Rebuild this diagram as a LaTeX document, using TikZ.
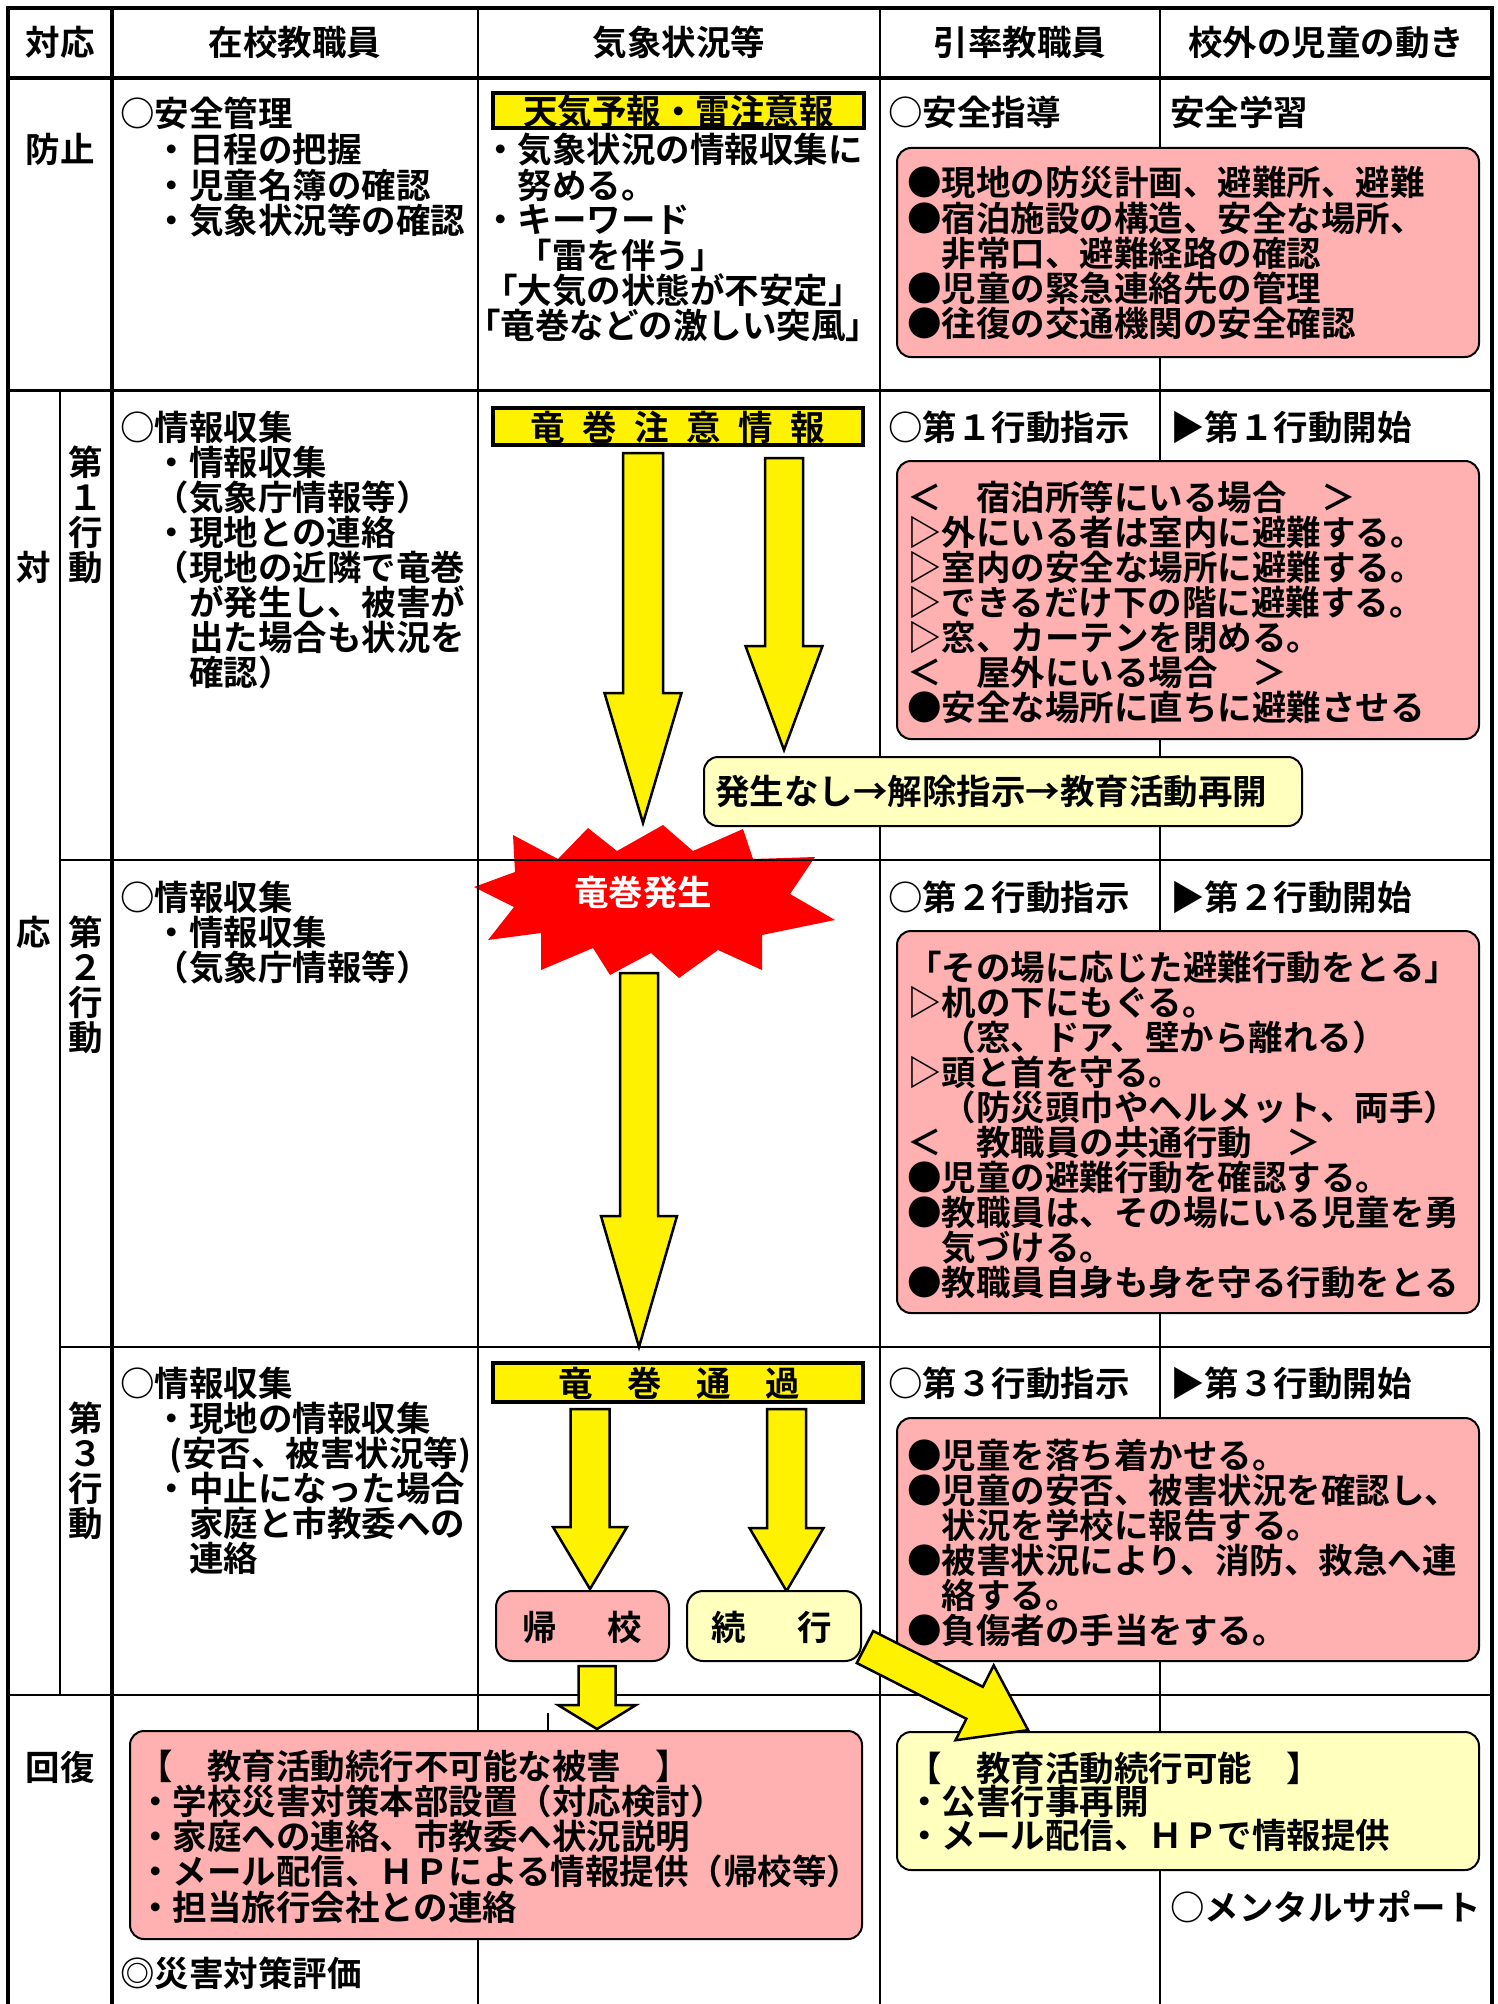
\documentclass[tikz,border=0pt]{standalone}
\usepackage{fontspec}
\setmainfont{Noto Sans CJK JP}[BoldFont={Noto Sans CJK JP Bold}]
\definecolor{pinkc}{RGB}{255,176,176}
\definecolor{lyel}{RGB}{255,255,190}
\tikzset{
  txt/.style={font=\fontsize{34.5}{35}\selectfont\bfseries, inner sep=0pt, outer sep=0pt, anchor=base west},
  ctxt/.style={txt, anchor=base},
  pbox/.style={draw=black, line width=2pt, fill=pinkc, rounded corners=14pt},
  ybox/.style={draw=black, line width=2pt, fill=lyel, rounded corners=14pt},
  tbox/.style={draw=black, line width=4pt, fill=yellow},
  arr/.style={draw=black, line width=2.5pt, fill=yellow, line join=miter},
  thin/.style={line width=2pt},
}
\newcommand\tblock[5]{\foreach \s [count=\i from 0] in {#5} {\node[txt, name=#1\i] at (#2, #3+13+#4*\i) {\s};}}
\newcommand\vblock[4]{\foreach \s [count=\i from 0] in {#4} {\node[ctxt, name=#1\i] at (#2, #3+13+35*\i) {\s};}}
\newcommand\darrow[6]{\filldraw[arr] (#1-#2,#3) -- (#1+#2,#3) -- (#1+#2,#4) -- (#1+#5,#4) -- (#1,#6) -- (#1-#5,#4) -- (#1-#2,#4) -- cycle;}
\newcommand\hsp[1]{\hspace{#1pt}}
\begin{document}
\begin{tikzpicture}[x=1pt,y=-1pt]
\useasboundingbox (0,0) rectangle (1498,2004);
\fill[white] (0,0) rectangle (1498,2004);
% star
\fill[red] (474,887) -- (515,872) -- (513,835) -- (558,859) -- (588,828) -- (617,851) -- (663,825) -- (693,851) -- (743,829) -- (753,859) -- (815,857) -- (790,894) -- (835,920) -- (762,935) -- (762,970) -- (718,950) -- (679,978) -- (651,953) -- (610,975) -- (593,948) -- (541,970) -- (541,933) -- (488,940) -- (514,907) -- cycle;
% grid
\draw[thin] (478,8) -- (478,2004);
\draw[thin] (880,8) -- (880,2004);
\draw[thin] (1160,8) -- (1160,2004);
\draw[thin] (60,390) -- (60,1695);
\draw[thin] (60,860) -- (1492,860);
\draw[thin] (60,1347) -- (1492,1347);
\draw[thin] (8,1695) -- (1492,1695);
\draw[line width=3pt] (8,390) -- (1492,390);
\draw[line width=4pt] (8,78) -- (1492,78);
\draw[line width=4pt] (112,8) -- (112,2004);
\draw[line width=4.5pt] (8,2004) -- (8,8) -- (1492,8) -- (1492,2004);
\draw[line width=1.5pt] (548,1713) -- (548,1731);
% header
\node[ctxt] (h1) at (60,56) {対応};
\node[ctxt] (h2) at (295,56) {在校教職員};
\node[ctxt] (h3) at (679,56) {気象状況等};
\node[ctxt] (h4) at (1020,56) {引率教職員};
\node[ctxt] (h5) at (1326,56) {校外の児童の動き};
% left labels
\node[ctxt] (l1) at (60,163) {防止};
\node[ctxt] (l2) at (34,580) {対};
\node[ctxt] (l3) at (34,945) {応};
\node[ctxt] (l4) at (60,1780) {回復};
\vblock{va}{86}{462}{第,１,行,動}
\vblock{vb}{86}{932}{第,２,行,動}
\vblock{vc}{86}{1418}{第,３,行,動}
% column zaikou
\tblock{za}{120}{114}{35.5}{○安全管理,　・日程の把握,　・児童名簿の確認,　・気象状況等の確認}
\tblock{zb}{120}{427}{35}{○情報収集,　・情報収集,　（気象庁情報等）,　・現地との連絡,　（現地の近隣で竜巻,　　が発生し、被害が,　　出た場合も状況を,　　確認）}
\tblock{zc}{120}{897}{35}{○情報収集,　・情報収集,　（気象庁情報等）}
\tblock{zd}{120}{1383}{35}{○情報収集,　・現地の情報収集,,　・中止になった場合,　　家庭と市教委への,　　連絡}
\node[txt] (zd2b) at (169,1466) {(安否、被害状況等)};
\node[txt] (hyoka) at (120,1986) {◎災害対策評価};
% kishou column
\draw[tbox] (493,93) rectangle (864,128);
\node[ctxt] (tenki) at (678.5,125) {天気予報・雷注意報};
\tblock{ka}{483}{150}{35}{・気象状況の情報収集に,　努める。,・キーワード,　「雷を伴う」,「大気の状態が不安定」}
\node[txt] (ka5) at (466,338) {「竜巻などの激しい突風」};
\draw[tbox] (493,408) rectangle (863,445);
\node[ctxt] (chui) at (678,440) {竜\hsp{17.5}巻\hsp{17.5}注\hsp{17.5}意\hsp{17.5}情\hsp{17.5}報};
\darrow{643}{20}{453}{693}{38.5}{823}
\darrow{784}{19}{458}{646}{38.5}{750}
\draw[ybox] (704,757) rectangle (1302,826);
\node[txt] (nashi) at (715,804) {発生なし→解除指示→教育活動再開};
\node[ctxt, text=white] (occ) at (643,905) {竜巻発生};
\darrow{639}{19}{973}{1216}{38}{1347}
\draw[tbox] (493,1363) rectangle (863,1402);
\node[ctxt] (tsuka) at (679,1396) {竜　巻　通　過};
\darrow{590}{19.5}{1409}{1527}{37}{1589}
\darrow{786.5}{19.5}{1409}{1528}{37}{1591}
\draw[pbox, rounded corners=16pt] (496,1591) rectangle (669,1661);
\node[ctxt] (kiko) at (582.5,1640) {帰\hsp{50.5}校};
\draw[ybox, rounded corners=16pt] (687,1591) rectangle (861,1661);
\node[ctxt] (zoko) at (772,1640) {続\hsp{51.5}行};
\darrow{597}{18.5}{1666}{1705}{39}{1729}
% inritsu / kougai
\node[txt] (ia) at (888,126) {○安全指導};
\node[txt] (ga) at (1170,126) {安全学習};
\draw[pbox] (897,148) rectangle (1479,357);
\tblock{pa}{907}{183}{35}{●現地の防災計画、避難所、避難,●宿泊施設の構造、安全な場所、,　非常口、避難経路の確認,●児童の緊急連絡先の管理,●往復の交通機関の安全確認}
\node[txt] (ib) at (888,440) {○第１行動指示};
\node[txt] (gb) at (1170,440) {▶第１行動開始};
\draw[pbox] (897,461) rectangle (1479,739);
\tblock{pb}{907}{497}{35}{＜　宿泊所等にいる場合　＞,▷外にいる者は室内に避難する。,▷室内の安全な場所に避難する。,▷できるだけ下の階に避難する。,▷窓、カーテンを閉める。,＜　屋外にいる場合　＞,●安全な場所に直ちに避難させる}
\node[txt] (ic) at (888,910) {○第２行動指示};
\node[txt] (gc) at (1170,910) {▶第２行動開始};
\draw[pbox] (897,931) rectangle (1479,1313);
\tblock{pc}{907}{967}{35}{「その場に応じた避難行動をとる」,▷机の下にもぐる。,　（窓、ドア、壁から離れる）,▷頭と首を守る。,　（防災頭巾やヘルメット、両手）,＜　教職員の共通行動　＞,●児童の避難行動を確認する。,●教職員は、その場にいる児童を勇,　気づける。,●教職員自身も身を守る行動をとる}
\node[txt] (id) at (888,1396) {○第３行動指示};
\node[txt] (gd) at (1170,1396) {▶第３行動開始};
\draw[pbox] (897,1418) rectangle (1479,1661);
\tblock{pd}{907}{1455}{35}{●児童を落ち着かせる。,●児童の安否、被害状況を確認し、,　状況を学校に報告する。,●被害状況により、消防、救急へ連,　絡する。,●負傷者の手当をする。}
% recovery
\draw[pbox] (130,1731) rectangle (862,1939);
\tblock{pe}{138}{1766}{35.3}{【　教育活動続行不可能な被害　】,・学校災害対策本部設置（対応検討）,・家庭への連絡、市教委へ状況説明,・メール配信、ＨＰによる情報提供（帰校等）,・担当旅行会社との連絡}
\draw[ybox] (897,1732) rectangle (1479,1870);
\tblock{pf}{907}{1768}{33.5}{【　教育活動続行可能　】,・公害行事再開,・メール配信、ＨＰで情報提供}
\node[txt] (mental) at (1170,1920) {○メンタルサポート};
% diagonal arrow
\filldraw[arr] (873.2,1631.0) -- (982.8,1686.8) -- (993.7,1665.4) -- (1028.1,1730.1) -- (955.5,1740.2) -- (966.4,1718.8) -- (856.8,1663.0) -- cycle;
\end{tikzpicture}
\end{document}
